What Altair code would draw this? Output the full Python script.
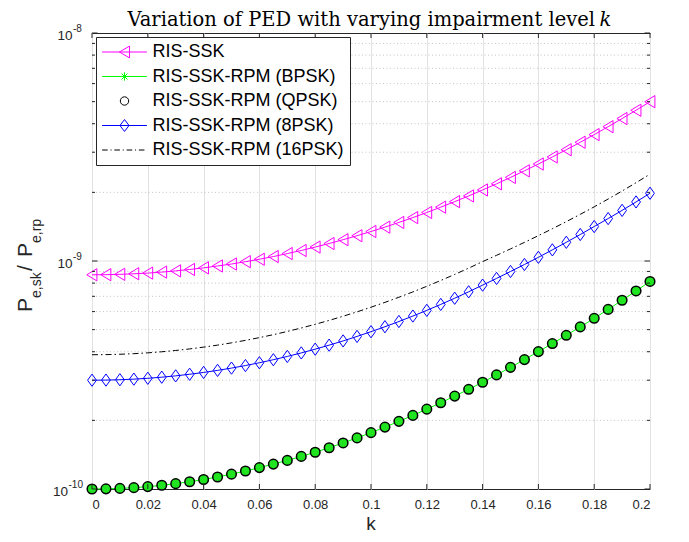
import altair as alt
import pandas as pd

# ---------------- data ----------------
K = [0, 0.005, 0.01, 0.015, 0.02, 0.025, 0.03, 0.035, 0.04, 0.045, 0.05,
     0.055, 0.06, 0.065, 0.07, 0.075, 0.08, 0.085, 0.09, 0.095, 0.1,
     0.105, 0.11, 0.115, 0.12, 0.125, 0.13, 0.135, 0.14, 0.145, 0.15,
     0.155, 0.16, 0.165, 0.17, 0.175, 0.18, 0.185, 0.19, 0.195, 0.2]

# RIS-SSK  (units of 1e-9)
SSK_E9 = [0.870, 0.871, 0.874, 0.879, 0.885, 0.894, 0.905, 0.918, 0.933, 0.951, 0.970,
          0.993, 1.018, 1.046, 1.078, 1.112, 1.151, 1.193, 1.240, 1.291, 1.347,
          1.408, 1.476, 1.550, 1.632, 1.722, 1.821, 1.929, 2.049, 2.180, 2.326,
          2.486, 2.663, 2.859, 3.076, 3.317, 3.584, 3.882, 4.214, 4.583, 4.996]

# RIS-SSK-RPM (BPSK)  (units of 1e-10)
BPSK_E10 = [1.000, 1.0015, 1.006, 1.0136, 1.0243, 1.0382, 1.0555, 1.0763, 1.1008, 1.1292, 1.1618,
            1.199, 1.2411, 1.2858, 1.3352, 1.3897, 1.4495, 1.5172, 1.5925, 1.6757, 1.7665,
            1.8685, 1.9799, 2.1028, 2.2399, 2.3895, 2.5548, 2.7371, 2.9388, 3.1651, 3.4160,
            3.6949, 4.005, 4.344, 4.721, 5.140, 5.606, 6.135, 6.727, 7.390, 8.134]

# RIS-SSK-RPM (QPSK)  (units of 1e-10) - overlaps BPSK
QPSK_E10 = [1.000, 1.0015, 1.006, 1.0136, 1.0243, 1.0382, 1.0555, 1.0763, 1.1008, 1.1292, 1.1618,
            1.199, 1.2411, 1.2858, 1.3352, 1.3897, 1.4495, 1.5172, 1.5925, 1.6757, 1.7665,
            1.8685, 1.9799, 2.1028, 2.2399, 2.3895, 2.5548, 2.7371, 2.9388, 3.1651, 3.4160,
            3.6949, 4.005, 4.344, 4.721, 5.140, 5.606, 6.135, 6.727, 7.390, 8.134]

# RIS-SSK-RPM (8PSK)  (units of 1e-10)
PSK8_E10 = [3.000, 3.004, 3.015, 3.033, 3.059, 3.093, 3.135, 3.186, 3.245, 3.313, 3.391,
            3.479, 3.579, 3.690, 3.814, 3.952, 4.105, 4.275, 4.462, 4.669, 4.897,
            5.149, 5.428, 5.735, 6.075, 6.450, 6.866, 7.326, 7.837, 8.387, 8.994,
            9.654, 10.38, 11.19, 12.08, 13.07, 14.16, 15.35, 16.67, 18.16, 19.82]

# RIS-SSK-RPM (16PSK)  (units of 1e-10)
PSK16_E10 = [3.880, 3.885, 3.899, 3.922, 3.955, 3.998, 4.051, 4.115, 4.190, 4.276, 4.375,
             4.486, 4.612, 4.752, 4.909, 5.083, 5.276, 5.489, 5.724, 5.984, 6.270,
             6.586, 6.935, 7.320, 7.745, 8.214, 8.732, 9.305, 9.940, 10.59, 11.30,
             12.07, 12.92, 13.85, 14.88, 16.02, 17.28, 18.70, 20.27, 22.05, 24.04]

SERIES = ["RIS-SSK", "RIS-SSK-RPM (BPSK)", "RIS-SSK-RPM (QPSK)",
          "RIS-SSK-RPM (8PSK)", "RIS-SSK-RPM (16PSK)"]
COLORS = ["#ff00ff", "#00ff00", "#000000", "#0000ff", "#000000"]

X_TICKS = [0, 0.02, 0.04, 0.06, 0.08, 0.1, 0.12, 0.14, 0.16, 0.18, 0.2]
Y_MAJOR = [1e-10, 1e-9, 1e-8]
Y_EXP = ["-10", "-9", "-8"]
Y_MINOR = [2e-10, 3e-10, 4e-10, 5e-10, 6e-10, 7e-10, 8e-10, 9e-10,
           2e-9, 3e-9, 4e-9, 5e-9, 6e-9, 7e-9, 8e-9, 9e-9]

# ---------------- build tables ----------------
def series_df(vals, unit):
    return pd.DataFrame({"k": K, "v": [x * unit for x in vals]})

d_ssk = series_df(SSK_E9, 1e-9)
d_bpsk = series_df(BPSK_E10, 1e-10)
d_qpsk = series_df(QPSK_E10, 1e-10)
d_8 = series_df(PSK8_E10, 1e-10)
d_16 = series_df(PSK16_E10, 1e-10)

W, H = 558, 456
FONT = "Liberation Sans"
SERIF = "DejaVu Serif"
AX = "#262626"

xs = alt.Scale(domain=[0, 0.2], nice=False, zero=False)
ys = alt.Scale(type="log", domain=[1e-10, 1e-8], nice=False)

x_axis = alt.Axis(values=X_TICKS, format="~g", grid=True, gridColor="#e2e2e2",
                  gridWidth=1, ticks=False, domain=False, labelFont=FONT,
                  labelFontSize=13, labelColor=AX, labelPadding=9, title=None)


def xenc():
    return alt.X("k:Q", scale=xs, axis=x_axis, title=None)


def yenc():
    return alt.Y("v:Q", scale=ys, axis=None, title=None)


# grid lines (y)
grid_minor = alt.Chart(pd.DataFrame({"v": Y_MINOR})).mark_rule(
    color="#c4c4c4", strokeDash=[1, 2.5], strokeWidth=1).encode(y=yenc())
grid_major = alt.Chart(pd.DataFrame({"v": [1e-9]})).mark_rule(
    color="#e2e2e2", strokeWidth=1).encode(y=yenc())

# lines
line_ssk = alt.Chart(d_ssk).mark_line(color="#ff00ff", strokeWidth=1).encode(x=xenc(), y=yenc())
line_bpsk = alt.Chart(d_bpsk).mark_line(color="#00ff00", strokeWidth=1).encode(x=xenc(), y=yenc())
line_8 = alt.Chart(d_8).mark_line(color="#0000ff", strokeWidth=1).encode(x=xenc(), y=yenc())
line_16 = alt.Chart(d_16).mark_line(color="#000000", strokeWidth=1,
                                     strokeDash=[6, 3, 1.5, 3]).encode(x=xenc(), y=yenc())

# markers
TRI = "M0.8,-1L-0.85,0L0.8,1Z"
DIA = "M0,-1L0.72,0L0,1L-0.72,0Z"
pts_ssk = alt.Chart(d_ssk).mark_point(shape=TRI, size=150, filled=False, color="#ff00ff",
                                      strokeWidth=1, opacity=1).encode(x=xenc(), y=yenc())
pts_8 = alt.Chart(d_8).mark_point(shape=DIA, size=150, filled=False, color="#0000ff",
                                  strokeWidth=1, opacity=1).encode(x=xenc(), y=yenc())
pts_q = alt.Chart(d_qpsk).mark_point(shape="circle", size=92, filled=True, fill="#1fe41f",
                                     stroke="#000000", strokeWidth=1.5, opacity=1,
                                     fillOpacity=1).encode(x=xenc(), y=yenc())

# inward ticks
tdf_x = pd.DataFrame({"k": X_TICKS})
tick_xb = alt.Chart(tdf_x).mark_rule(color=AX).encode(x=xenc(), y=alt.value(H), y2=alt.value(H - 5))
tick_xt = alt.Chart(tdf_x).mark_rule(color=AX).encode(x=xenc(), y=alt.value(0), y2=alt.value(5))
tdf_ymaj = pd.DataFrame({"v": Y_MAJOR})
tdf_ymin = pd.DataFrame({"v": Y_MINOR})
tick_yl = alt.Chart(tdf_ymaj).mark_rule(color=AX).encode(y=yenc(), x=alt.value(0), x2=alt.value(5.5))
tick_yr = alt.Chart(tdf_ymaj).mark_rule(color=AX).encode(y=yenc(), x=alt.value(W - 5.5), x2=alt.value(W))
tick_yl2 = alt.Chart(tdf_ymin).mark_rule(color=AX).encode(y=yenc(), x=alt.value(0), x2=alt.value(3))
tick_yr2 = alt.Chart(tdf_ymin).mark_rule(color=AX).encode(y=yenc(), x=alt.value(W - 3), x2=alt.value(W))

# y tick labels 10^{exp}, placed through the y scale
JOINT = [-24, -19.5, -19.5]
ylabels = []
for val, ex, jx in zip(Y_MAJOR, Y_EXP, JOINT):
    d = pd.DataFrame({"v": [val], "base": ["10"], "e": [ex]})
    ylabels.append(alt.Chart(d).mark_text(font=FONT, fontSize=13.5, color=AX, align="right",
                                          baseline="middle", dy=2.5).encode(
        y=yenc(), x=alt.value(jx), text="base:N"))
    ylabels.append(alt.Chart(d).mark_text(font=FONT, fontSize=10, color=AX, align="left",
                                          baseline="middle", dy=-4).encode(
        y=yenc(), x=alt.value(jx + 0.5), text="e:N"))

# legend (symbols are custom paths: line segment + marker)
LEG_PATHS = [
    "M-3.2,0H3.2M0.72,-0.85L-0.72,0L0.72,0.85Z",
    "M-3.2,0H3.2M0,-0.6V0.6M-0.6,0H0.6M-0.42,-0.42L0.42,0.42M-0.42,0.42L0.42,-0.42",
    "M0.6,0A0.6,0.6,0,1,1,-0.6,0A0.6,0.6,0,1,1,0.6,0Z",
    "M-3.2,0H3.2M0,-0.85L0.65,0L0,0.85L-0.65,0Z",
    "M-3.2,0H-2.4M-2.0,0H-1.85M-1.45,0H-0.65M-0.25,0H-0.1M0.3,0H1.1M1.5,0H1.65M2.05,0H2.85",
]
leg = alt.Legend(orient="top-left", offset=4, title=None, padding=6, rowPadding=6.5,
                 symbolSize=196, symbolStrokeWidth=1, symbolOffset=13.5, labelOffset=19,
                 labelFont=FONT, labelFontSize=18, labelColor="#000000", labelLimit=0,
                 strokeColor=AX, fillColor="#ffffff", cornerRadius=0)
leg_df = pd.DataFrame({"series": SERIES, "k": [0.0] * 5, "v": [1e-12] * 5})
legend_layer = alt.Chart(leg_df).mark_point(filled=False, size=196, strokeWidth=1,
                                            opacity=1, clip=True).encode(
    x=xenc(), y=yenc(),
    color=alt.Color("series:N", scale=alt.Scale(domain=SERIES, range=COLORS), legend=leg),
    shape=alt.Shape("series:N", scale=alt.Scale(domain=SERIES, range=LEG_PATHS), legend=leg),
)


def txt(s, x, y, size, angle=0, align="left", font=FONT, style="normal", color=AX):
    return alt.Chart(alt.Data(values=[{"a": 1}])).mark_text(
        text=s, font=font, fontSize=size, fontStyle=style, angle=angle, align=align,
        baseline="alphabetic", color=color).encode(x=alt.value(x), y=alt.value(y))


# y-axis title: P_{e,sk} / P_{e,rp}
ytitle = [
    txt("P", -60, 279, 21, angle=270),
    txt("e,sk", -51.5, 265, 14, angle=270),
    txt("/", -60, 238, 21, angle=270),
    txt("P", -60, 224, 21, angle=270),
    txt("e,rp", -51.5, 210, 14, angle=270),
]
# x-axis title
xtitle = [txt("k", W / 2, H + 40.5, 19, align="center")]
# chart title
title = [
    txt("Variation of PED with varying impairment level", 503, -7.5, 19.5, align="right",
        font=SERIF, color="#000000"),
    txt("k", 507.5, -7.5, 19.5, font=SERIF, style="italic", color="#000000"),
]

chart = alt.layer(
    grid_minor, grid_major,
    line_ssk, line_bpsk, line_8, line_16,
    pts_ssk, pts_8, pts_q,
    tick_xb, tick_xt, tick_yl, tick_yr, tick_yl2, tick_yr2,
    legend_layer, *ylabels, *ytitle, *xtitle, *title,
).properties(
    width=W, height=H,
    autosize=alt.AutoSizeParams(type="none"),
    padding={"left": 84, "top": 25, "right": 31, "bottom": 45},
).configure_view(stroke=AX, strokeWidth=1)

chart.save("out.html", embed_options={"renderer": "svg", "actions": False})
